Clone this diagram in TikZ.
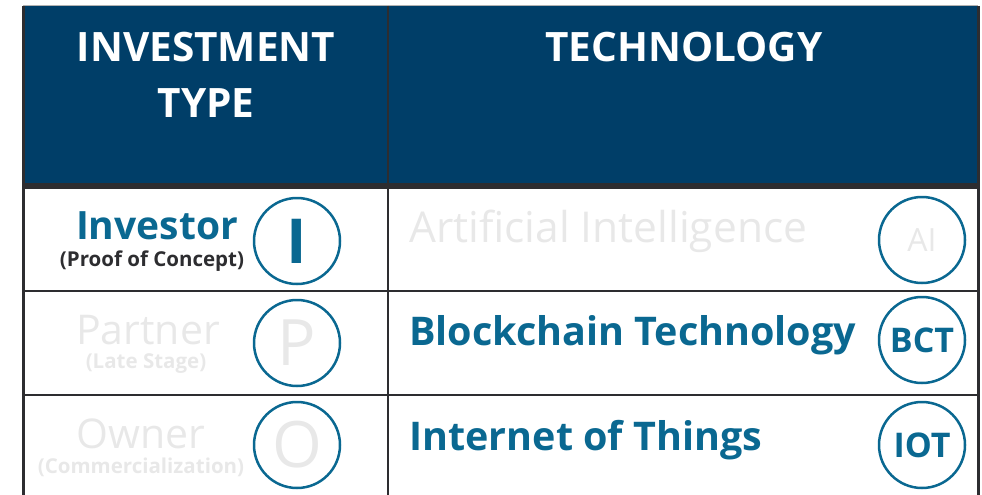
\documentclass[tikz,border=0pt]{standalone}
\usepackage{fontspec}
\setmainfont{Open Sans}
\usepackage{tikz}
\usetikzlibrary{positioning}

\definecolor{hdblue}{RGB}{0,62,104}
\definecolor{txblue}{RGB}{10,104,145}
\definecolor{grid}{RGB}{45,45,48}
\definecolor{faded}{RGB}{232,232,232}

\begin{document}
\begin{tikzpicture} [x=1pt, y=-1pt, thick,
                    head/.style={text=white,font=\fontsize{40.5}{56}\selectfont\bfseries,align=center},
                    lbl/.style={anchor=base,inner sep=0pt},
                    sub/.style={anchor=base,inner sep=0pt,font=\fontsize{20.5}{22}\selectfont\bfseries},
                    badge/.style={circle,draw=txblue,line width=2.5pt,minimum size=86pt,inner sep=0pt}]

\useasboundingbox (0,0) rectangle (982,495);
\fill[hdblue] (23,6) rectangle (978,186);
\draw[gray!60, line width=1pt] (23,6) -- (978,6);

% grid
\draw[grid, line width=3pt] (23,6) -- (23,495);
\draw[grid, line width=3pt] (978,6) -- (978,495);
\draw[grid, line width=2.5pt] (388,6) -- (388,495);
\draw[grid, line width=6pt] (23,186) -- (978,186);
\draw[grid, line width=2.5pt] (23,291) -- (978,291);
\draw[grid, line width=2.5pt] (23,395) -- (978,395);

% header
\node[head] (type) at (206,75) {INVESTMENT\\TYPE};
\node[head] (tech) at (684,47) {TECHNOLOGY};

% investment type
\node[lbl, text=txblue, font=\fontsize{39}{39}\selectfont\bfseries] (inv) at (157,239) {Investor};
\node[sub, text=grid] (invs) at (152,266) {(Proof of Concept)};
\node[lbl, text=faded, font=\fontsize{41}{41}\selectfont] (par) at (148,344) {Partner};
\node[sub, text=faded] (pars) at (146,368) {(Late Stage)};
\node[lbl, text=faded, font=\fontsize{41}{41}\selectfont] (own) at (141,448) {Owner};
\node[sub, text=faded] (owns) at (141,473) {(Commercialization)};

\node[badge, text=txblue, font=\fontsize{62}{62}\selectfont\bfseries] (I) at (297,241) {I};
\node[badge, text=faded, font=\fontsize{64}{64}\selectfont] (P) at (297,343) {P};
\node[badge, text=faded, font=\fontsize{64}{64}\selectfont] (O) at (297,445) {O};

% technology
\node[lbl, anchor=base west, text=faded, font=\fontsize{42.5}{42}\selectfont] (ai) at (409,242) {Artificial Intelligence};
\node[lbl, anchor=base west, text=txblue, font=\fontsize{39.5}{40}\selectfont\bfseries] (bct) at (409,345) {Blockchain Technology};
\node[lbl, anchor=base west, text=txblue, font=\fontsize{39.5}{40}\selectfont\bfseries] (iot) at (409,450) {Internet of Things};

\node[badge, text=faded, font=\fontsize{32}{32}\selectfont] (AIc) at (922,240) {AI};
\node[badge, text=txblue, font=\fontsize{34}{34}\selectfont\bfseries] (BCTc) at (922,340) {BCT};
\node[badge, text=txblue, font=\fontsize{34}{34}\selectfont\bfseries] (IOTc) at (922,445) {IOT};
\end{tikzpicture}
\end{document}
